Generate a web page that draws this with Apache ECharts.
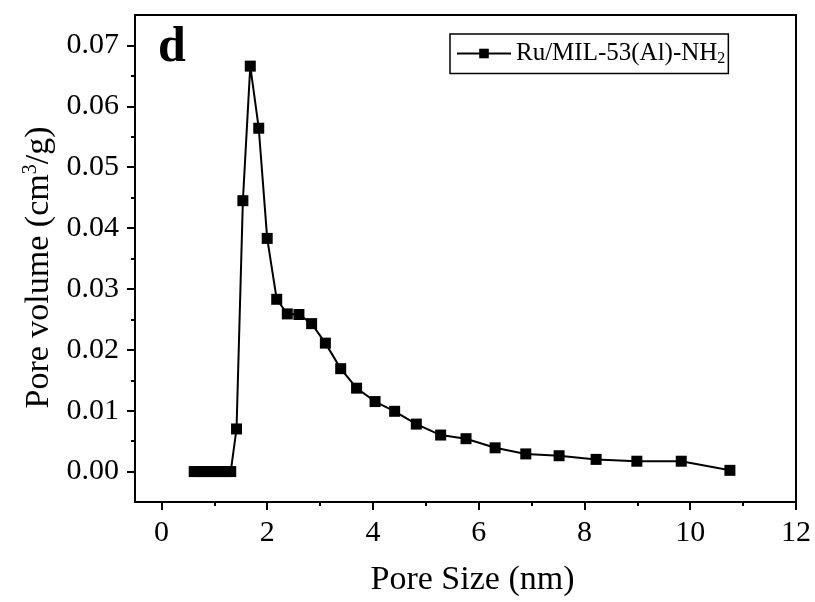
<!DOCTYPE html>
<html>
<head>
<meta charset="utf-8">
<script src="https://cdn.jsdelivr.net/npm/echarts@6/dist/echarts.min.js"></script>
<style>
  html, body { margin: 0; padding: 0; background: #fff; }
  #chart { width: 815px; height: 602px; }
</style>
</head>
<body>
<div id="chart"></div>
<script>
// Pore size distribution of Ru/MIL-53(Al)-NH2
const seriesName = 'Ru/MIL-53(Al)-NH{sub|2}';
const poreSize = [0.62, 0.72, 0.82, 0.92, 1.02, 1.12, 1.22, 1.31, 1.42, 1.54, 1.68, 1.84, 2.00,
  2.18, 2.38, 2.60, 2.84, 3.10, 3.39, 3.69, 4.04, 4.41, 4.82, 5.28, 5.76, 6.31, 6.89, 7.52,
  8.22, 8.99, 9.83, 10.75];
const poreVolume = [0, 0, 0, 0, 0, 0, 0, 0, 0.0070, 0.0445, 0.0666, 0.0564, 0.0383,
  0.0283, 0.0259, 0.0258, 0.0243, 0.0211, 0.0169, 0.0137, 0.0115, 0.0099, 0.0078, 0.0060,
  0.0054, 0.0039, 0.0029, 0.0026, 0.0020, 0.0017, 0.0017, 0.0002];
const xMajorTicks = [0, 2, 4, 6, 8, 10, 12];
const xMinorTicks = [1, 3, 5, 7, 9, 11];
const yMajorTicks = [0, 0.01, 0.02, 0.03, 0.04, 0.05, 0.06, 0.07];
const yMinorTicks = [0.005, 0.015, 0.025, 0.035, 0.045, 0.055, 0.065];

const FONT = '"Liberation Serif", "Times New Roman", serif';
const points = poreSize.map((x, i) => [x, poreVolume[i]]);

const axisLine = { show: true, onZero: false, lineStyle: { color: '#000', width: 2 } };

const chart = echarts.init(document.getElementById('chart'), null, { renderer: 'canvas' });
chart.setOption({
  backgroundColor: '#fff',
  animation: false,
  title: {
    text: 'd',
    left: 153,
    top: 18,
    textStyle: { fontFamily: FONT, fontWeight: 'bold', fontSize: 50, color: '#000' }
  },
  legend: {
    left: 450,
    top: 34,
    padding: [7, 3, 7, 6],
    borderColor: '#000',
    borderWidth: 1.5,
    itemWidth: 54,
    itemHeight: 12,
    itemGap: 0,
    textStyle: {
      fontFamily: FONT, fontSize: 25, color: '#000',
      rich: { sub: { fontFamily: FONT, fontSize: 16, verticalAlign: 'bottom', padding: [10, 0, 0, 0] } }
    },
    data: [seriesName]
  },
  grid: {
    left: 135, right: 19, top: 15, bottom: 98,
    show: true, borderColor: '#000', borderWidth: 2, backgroundColor: 'transparent'
  },
  xAxis: [{
    type: 'value', min: -0.5, max: 12,
    name: 'Pore Size (nm)', nameLocation: 'middle', nameGap: 61,
    nameTextStyle: { fontFamily: FONT, fontSize: 34, color: '#000', padding: [0, 0, 0, 14] },
    axisLine: axisLine,
    axisTick: { show: true, length: 8, lineStyle: { color: '#000', width: 2 }, customValues: xMajorTicks },
    axisLabel: { fontFamily: FONT, fontSize: 30, color: '#000', margin: 16, customValues: xMajorTicks },
    splitLine: { show: false }
  }, {
    type: 'value', min: -0.5, max: 12, position: 'bottom',
    axisLine: axisLine,
    axisTick: { show: true, length: 4, lineStyle: { color: '#000', width: 2 }, customValues: xMinorTicks },
    axisLabel: { show: false },
    splitLine: { show: false }
  }],
  yAxis: [{
    type: 'value', min: -0.005, max: 0.075,
    name: 'Pore volume (cm{sup|3}/g)', nameLocation: 'middle', nameGap: 75,
    nameTextStyle: {
      fontFamily: FONT, fontSize: 34, color: '#000', padding: [0, 18, 0, 0],
      rich: { sup: { fontFamily: FONT, fontSize: 20, verticalAlign: 'top', padding: [0, 0, 16, 0] } }
    },
    axisLine: axisLine,
    axisTick: { show: true, length: 8, lineStyle: { color: '#000', width: 2 }, customValues: yMajorTicks },
    axisLabel: {
      fontFamily: FONT, fontSize: 30, color: '#000', margin: 16, customValues: yMajorTicks,
      formatter: v => v.toFixed(2)
    },
    splitLine: { show: false }
  }, {
    type: 'value', min: -0.005, max: 0.075, position: 'left',
    axisLine: axisLine,
    axisTick: { show: true, length: 4, lineStyle: { color: '#000', width: 2 }, customValues: yMinorTicks },
    axisLabel: { show: false },
    splitLine: { show: false }
  }],
  series: [{
    name: seriesName,
    type: 'line',
    data: points,
    symbol: 'rect',
    symbolSize: 11,
    showAllSymbol: true,
    lineStyle: { color: '#000', width: 2 },
    itemStyle: { color: '#000' },
    z: 3
  }]
});
</script>
</body>
</html>
